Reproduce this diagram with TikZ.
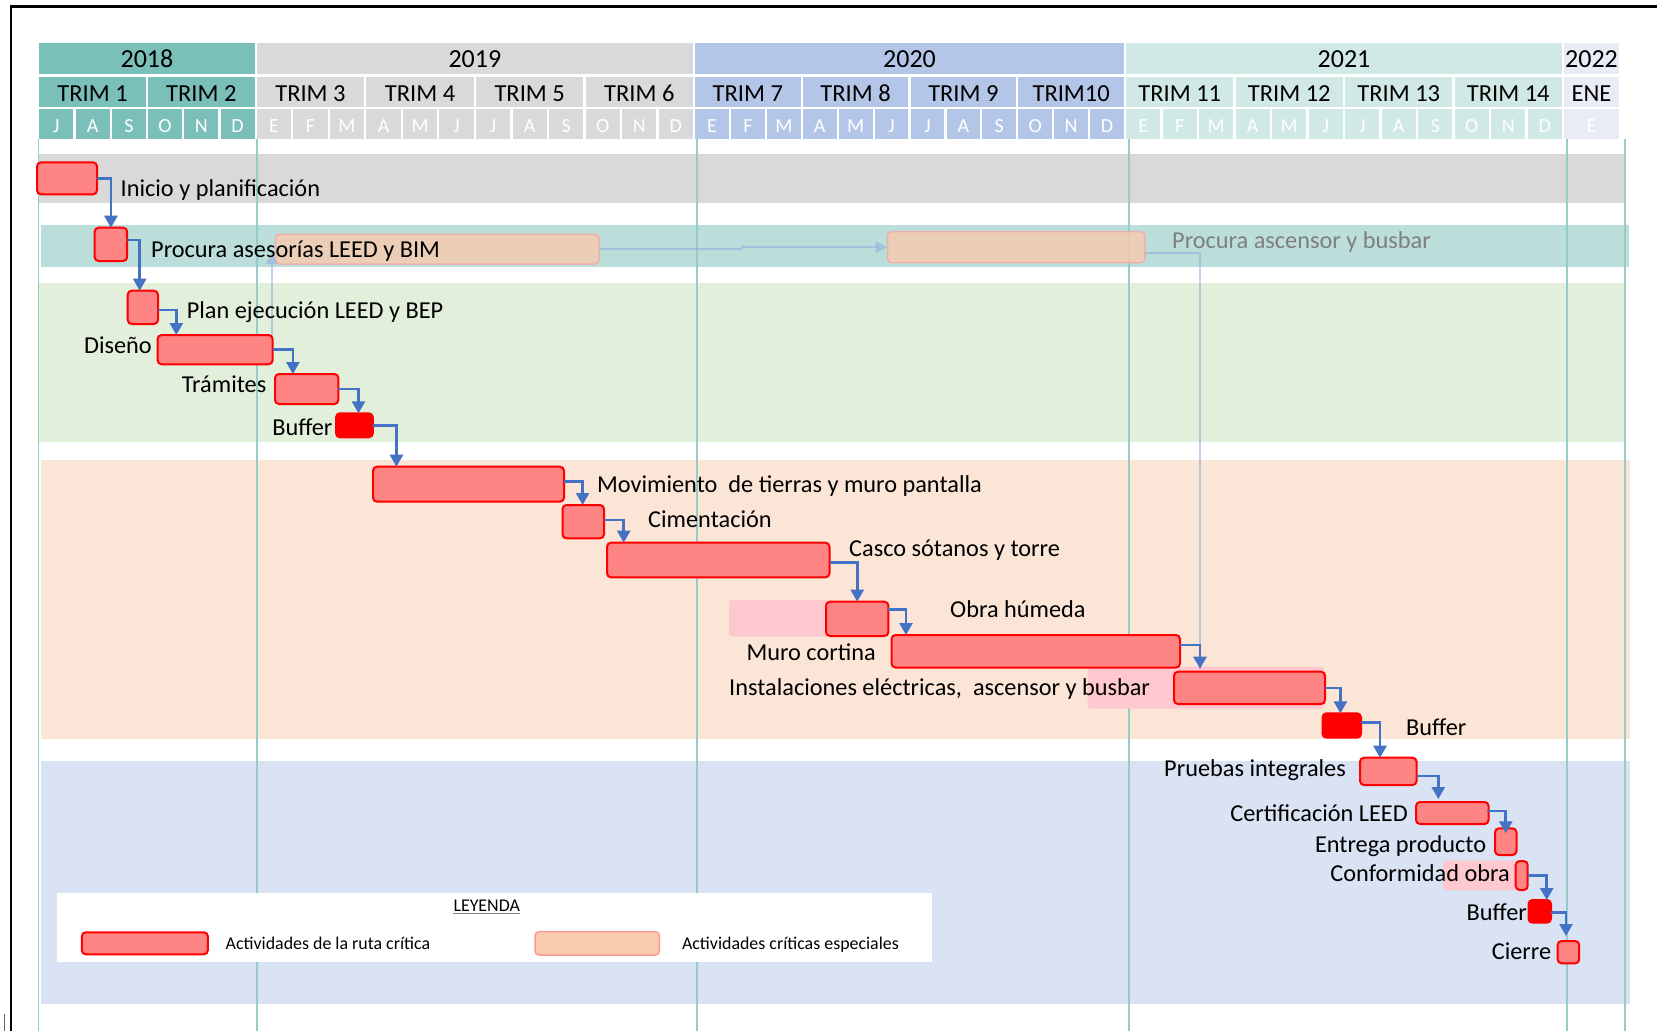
\documentclass[tikz,border=0pt]{standalone}
\usepackage{fontspec}
\setmainfont{Carlito}
\usetikzlibrary{arrows.meta}

% header colours
\definecolor{yrA}{HTML}{7BBFB9}
\definecolor{yrB}{HTML}{D9D9D9}
\definecolor{yrC}{HTML}{B4C6E7}
\definecolor{yrD}{HTML}{D1E9E5}
\definecolor{yrE}{HTML}{E9EBF5}
% phase bands
\definecolor{bandGray}{HTML}{D9D9D9}
\definecolor{bandTeal}{HTML}{BCDEDA}
\definecolor{bandGreen}{HTML}{E2EFDA}
\definecolor{bandPeach}{HTML}{FBE5D6}
\definecolor{bandBlue}{HTML}{DAE3F3}
% bars and links
\definecolor{gridline}{RGB}{150,205,200}
\definecolor{critfill}{RGB}{255,133,133}
\definecolor{critdraw}{HTML}{FF0000}
\definecolor{specfill}{HTML}{F8CBAD}
\definecolor{specdraw}{HTML}{FF9999}
\definecolor{softpink}{HTML}{FFC7CE}
\definecolor{linkblue}{HTML}{4472C4}
\definecolor{paleblue}{HTML}{8FAADC}
\definecolor{labelgray}{HTML}{7F7F7F}

% one calendar year: left edge, month width, months, colour, year, month letters, quarters
\newcommand\calyear[7]{%
  \fill[#4] (#1+1.1,42.7) rectangle (#1+#3*#2-1.1,73.5);
  \node[yeartxt] (yr-#5) at (#1+0.5*#3*#2,67.7) {#5};
  \foreach \q [count=\i from 0] in {#7} {
    \fill[#4] (#1+\i*3*#2+1.1,76.7) rectangle (#1+\i*3*#2+3*#2-1.1,106.5);
    \node[trimtxt] (q-#5-\i) at (#1+\i*3*#2+1.5*#2,101) {\q};
  }
  \foreach \m [count=\i from 0] in {#6} {
    \fill[#4] (#1+\i*#2+1.1,109.3) rectangle (#1+\i*#2+#2-1.1,138.7);
    \node[monthtxt] (m-#5-\i) at (#1+\i*#2+0.5*#2,132.7) {\m};
  }%
}

\begin{document}
\begin{tikzpicture}[x=1pt,y=-1pt,
  yeartxt/.style={anchor=base, inner sep=0pt, font=\fontsize{26pt}{30pt}\selectfont},
  trimtxt/.style={anchor=base, inner sep=0pt, font=\fontsize{24.5pt}{29pt}\selectfont},
  monthtxt/.style={anchor=base, inner sep=0pt, text=white, font=\fontsize{20pt}{24pt}\selectfont},
  gbar/.style 2 args={minimum width=#1pt, minimum height=#2pt, anchor=north west, inner sep=0pt, outer sep=0pt},
  crit/.style={draw=critdraw, fill=critfill, line width=2pt, rounded corners=4pt},
  buffer/.style={draw=critdraw, fill=critdraw, line width=2pt, rounded corners=4pt},
  spec/.style={draw=specdraw, draw opacity=0.6, fill=specfill, fill opacity=0.8, line width=1.5pt, rounded corners=4pt},
  link/.style={draw=linkblue, line width=2.6pt, -{Triangle[width=13pt,length=12pt]}},
  softlink/.style={draw=paleblue, draw opacity=0.55, line width=2pt},
  lbl/.style={inner sep=0pt, font=\fontsize{24.3pt}{29pt}\selectfont},
  legtxt/.style={inner sep=0pt, font=\fontsize{17.9pt}{22pt}\selectfont},
  grid/.style={draw=gridline, line width=1.3pt}
]
\useasboundingbox (0,0) rectangle (1657,1031);
\fill[white] (0,0) rectangle (1657,1031);

% frame
\draw[black, line width=2.5pt] (11,1031) -- (11,6.5) -- (1657,6.5);
\draw[black!60, line width=1.3pt] (4.7,1014) -- (4.7,1031);

% calendar header
\calyear{38.3}{36.23}{6}{yrA}{2018}{J,A,S,O,N,D}{TRIM 1,TRIM 2}
\calyear{255.7}{36.53}{12}{yrB}{2019}{E,F,M,A,M,J,J,A,S,O,N,D}{TRIM 3,TRIM 4,TRIM 5,TRIM 6}
\calyear{694}{35.92}{12}{yrC}{2020}{E,F,M,A,M,J,J,A,S,O,N,D}{TRIM 7,TRIM 8,TRIM 9,TRIM10}
\calyear{1125}{36.5}{12}{yrD}{2021}{E,F,M,A,M,J,J,A,S,O,N,D}{TRIM 11,TRIM 12,TRIM 13,TRIM 14}
\fill[yrE] (1564.1,42.7) rectangle (1618.9,73.5);
\node[yeartxt] (yr-2022) at (1591.5,67.7) {2022};
\fill[yrE] (1564.1,76.7) rectangle (1618.9,106.5);
\node[trimtxt] (q-2022) at (1591.5,101) {ENE};
\fill[yrE] (1564.1,109.3) rectangle (1618.9,138.7);
\node[monthtxt] (m-2022) at (1591.5,132.7) {E};

% phase bands
\fill[bandGray] (38.5,153.5) rectangle (1625,203);
\fill[bandTeal] (41,224.5) rectangle (1629,266.7);
\fill[bandGreen] (38.5,283) rectangle (1625,441.7);
\fill[bandPeach] (41,460) rectangle (1629.6,738.5);
\fill[bandBlue] (41,761) rectangle (1629.6,1004.3);

% year separators
\foreach \gx in {38.5,257,697,1129,1567,1625}
  \draw[grid] (\gx,139) -- (\gx,1031);

% legend panel
\fill[white] (56.7,892.7) rectangle (931.5,961.7);

% soft highlight behind grouped activities
\fill[softpink, rounded corners=3pt] (729,600) rectangle (830,636.7);
\fill[softpink, rounded corners=3pt] (1087.5,666.5) rectangle (1324,708.5);
\fill[softpink, rounded corners=3pt] (1443,860.7) rectangle (1516,890);

% special procurement activities
\node[spec, gbar={323.5}{29.7}] (spec1) at (275.5,234.3) {};
\node[spec, gbar={257.3}{31}] (spec2) at (887.5,231.7) {};

% procurement link between the two special activities
\draw[softlink] (spec1.east) -- ++(143,0) |- ([xshift=-10pt]spec2.west);
\fill[paleblue, fill opacity=0.55] (spec2.west) -- ++(-12,-6) -- ++(0,12) -- cycle;

% critical path activities
\node[crit, gbar={60}{32}] (ini) at (37,162.3) {};
\node[crit, gbar={32.6}{33.3}] (proc) at (94.6,227.7) {};
\node[crit, gbar={30.3}{33.3}] (plan) at (127.7,290.7) {};
\node[crit, gbar={115}{29.3}] (dis) at (157.6,335) {};
\node[crit, gbar={63.4}{30}] (tram) at (275,374) {};
\node[buffer, gbar={36.8}{24}] (buf1) at (336,413.3) {};
\node[crit, gbar={191}{35}] (mov) at (373,466.7) {};
\node[crit, gbar={41.5}{33.3}] (cim) at (562.5,505) {};
\node[crit, gbar={222.5}{34.6}] (casco) at (607,542.7) {};
\node[crit, gbar={62.4}{34.3}] (obra) at (826,601.7) {};
\node[crit, gbar={288.5}{32.5}] (muro) at (891.5,635) {};
\node[crit, gbar={151}{32.3}] (inst) at (1174,671.7) {};
\node[buffer, gbar={38.5}{24.4}] (buf2) at (1322.5,713.3) {};
\node[crit, gbar={56.6}{27.3}] (prue) at (1360,757.7) {};
\node[crit, gbar={72.6}{22}] (cert) at (1416,802) {};
\node[crit, gbar={21.5}{26.7}] (ent) at (1495,828.3) {};
\node[crit, gbar={12}{29}] (conf) at (1515.7,861) {};
\node[buffer, gbar={22.5}{22.7}] (buf3) at (1528.5,900) {};
\node[crit, gbar={21.6}{22.3}] (cie) at (1557.6,941) {};

% lift and busbar procurement feeds the installations
\draw[softlink] ([yshift=-5.5pt]spec2.east) -| ([xshift=26pt,yshift=3pt]inst.north west);

% design feeds the consultancy procurement
\coordinate (dis-up) at (271.7,253);
\draw[softlink] (dis.north east -| dis-up) -- ([yshift=-10pt]dis-up);
\fill[paleblue, fill opacity=0.55] (dis-up) -- ++(-6,11) -- ++(12,0) -- cycle;

% finish-to-start links
\draw[link] (ini.east) -| (proc.north);
\draw[link] ([yshift=4.3pt]proc.east) -| ([xshift=12pt]plan.north west);
\draw[link] ([yshift=-2.6pt]plan.east) -| ([xshift=18.7pt]dis.north west);
\draw[link] (dis.east) -| ([xshift=17.9pt]tram.north west);
\draw[link] (tram.east) -| ([xshift=22.5pt]buf1.north west);
\draw[link] (buf1.east) -| ([xshift=23.4pt]mov.north west);
\draw[link] ([yshift=3pt]mov.east) -| ([xshift=20.1pt]cim.north west);
\draw[link] ([yshift=1.6pt]cim.east) -| ([xshift=16.7pt]casco.north west);
\draw[link] ([yshift=-2.7pt]casco.east) -| (obra.north);
\draw[link] ([yshift=9.5pt]obra.east) -| ([xshift=14.5pt]muro.north west);
\draw[link] ([yshift=6.2pt]muro.east) -| ([xshift=26pt,yshift=3pt]inst.north west);
\draw[link] (inst.east) -| ([xshift=17.9pt]buf2.north west);
\draw[link] ([yshift=3.2pt]buf2.east) -| ([xshift=20pt]prue.north west);
\draw[link] ([yshift=-4.6pt]prue.east) -| ([xshift=22.3pt,yshift=3pt]cert.north west);
\draw[link] ([yshift=2pt,xshift=-2pt]cert.east) -| ([yshift=-5pt]ent.north);
\draw[link] (conf.east) -| ([xshift=18.2pt]buf3.north west);
\draw[link] ([yshift=-1.3pt]buf3.east) -| ([xshift=8.4pt,yshift=5pt]cie.north west);

% activity labels
\node[lbl, anchor=base west] (t-ini) at (120.5,196.7) {Inicio y planificación};
\node[lbl, anchor=base west] (t-proc) at (151,257.3) {Procura asesorías LEED y BIM};
\node[lbl, anchor=base west, text=labelgray] (t-spec2) at (1172,248.3) {Procura ascensor y busbar};
\node[lbl, anchor=base west] (t-plan) at (186.6,318.3) {Plan ejecución LEED y BEP};
\node[lbl, anchor=base east] (t-dis) at (152,353.3) {Diseño};
\node[lbl, anchor=base east] (t-tram) at (266.5,392.7) {Trámites};
\node[lbl, anchor=base east] (t-buf1) at (332.6,435.7) {Buffer};
\node[lbl, anchor=base west] (t-mov) at (596.9,492.7) {Movimiento\ \ de tierras y muro pantalla};
\node[lbl, anchor=base west] (t-cim) at (648,527.3) {Cimentación};
\node[lbl, anchor=base west] (t-casco) at (849,556.7) {Casco sótanos y torre};
\node[lbl, anchor=base west] (t-obra) at (950,617.7) {Obra húmeda};
\node[lbl, anchor=base east] (t-muro) at (876,660) {Muro cortina};
\node[lbl, anchor=base west] (t-inst) at (729,695.7) {Instalaciones eléctricas,\ \ ascensor y busbar};
\node[lbl, anchor=base west] (t-buf2) at (1406,735.7) {Buffer};
\node[lbl, anchor=base east] (t-prue) at (1346,776) {Pruebas integrales};
\node[lbl, anchor=base east] (t-cert) at (1408,821.7) {Certificación LEED};
\node[lbl, anchor=base east] (t-ent) at (1486.3,852.3) {Entrega producto};
\node[lbl, anchor=base east] (t-conf) at (1510,881) {Conformidad obra};
\node[lbl, anchor=base east] (t-buf3) at (1527,920) {Buffer};
\node[lbl, anchor=base east] (t-cie) at (1551.4,959.3) {Cierre};

% legend
\node[legtxt, anchor=base] (ley) at (486.7,911) {LEYENDA};
\draw[black!50, line width=1.3pt] ([yshift=-2.5pt]ley.base west) -- ([yshift=-2.5pt]ley.base east);
\node[crit, gbar={126.1}{22}] (leg-crit) at (81.8,932.3) {};
\node[legtxt, anchor=base west] (leg-crit-t) at (225.5,949) {Actividades de la ruta crítica};
\node[draw=specdraw, fill=specfill, line width=1.5pt, rounded corners=4pt, gbar={124.4}{23.3}] (leg-spec) at (535,931.7) {};
\node[legtxt, anchor=base west] (leg-spec-t) at (681.8,949) {Actividades críticas especiales};
\end{tikzpicture}
\end{document}
